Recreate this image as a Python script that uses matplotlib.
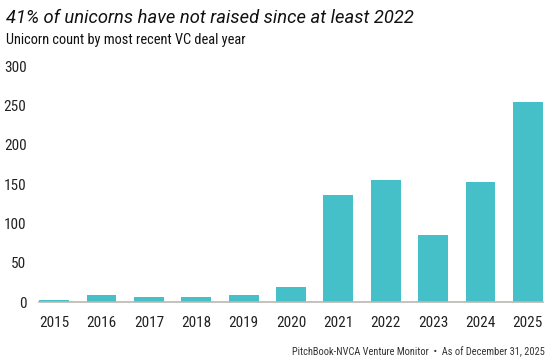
import matplotlib
matplotlib.use("Agg")
import matplotlib.pyplot as plt

years = ["2015", "2016", "2017", "2018", "2019", "2020", "2021", "2022", "2023", "2024", "2025"]
counts = [3, 9, 6, 6, 9, 19, 136, 155, 85, 152, 254]
yticks = [0, 50, 100, 150, 200, 250, 300]

cond = ['Roboto Condensed', 'Roboto', 'DejaVu Sans']
plt.rcParams['font.family'] = cond

fig = plt.figure(figsize=(5.53, 3.61), dpi=100)
ax = fig.add_axes([39/553, 59/361, (543-39)/553, (302-66)/361])
x = list(range(len(years)))
ax.bar(x, counts, width=0.63, color="#45c0c8", zorder=2)
ax.set_xlim(-0.32, 10.32)
ax.set_ylim(0, 300)
ax.set_xticks(x)
ax.set_xticklabels(years, fontsize=11, color="#222222")
ax.set_yticks(yticks)
ax.set_yticklabels([str(v) for v in yticks], fontsize=11, color="#222222")
for s in ["top", "right", "left"]:
    ax.spines[s].set_visible(False)
ax.spines["bottom"].set_color("#bbb6b0")
ax.spines["bottom"].set_linewidth(1.2)
ax.tick_params(axis="both", length=0)
ax.tick_params(axis="x", pad=10)
ax.tick_params(axis="y", pad=9)

fig.text(6/553, 1 - 18/361, "41% of unicorns have not raised since at least 2022",
         fontsize=13.2, style="italic", color="#111111", va="center", ha="left",
         family=['Roboto', 'DejaVu Sans'])
fig.text(6/553, 1 - 40/361, "Unicorn count by most recent VC deal year",
         fontsize=10.4, color="#111111", va="center", ha="left")
fig.text(545/553, 1 - 352/361, "PitchBook-NVCA Venture Monitor  \u2022  As of December 31, 2025",
         fontsize=7.5, color="#333333", va="center", ha="right")

fig.savefig("out.png", dpi=100)
